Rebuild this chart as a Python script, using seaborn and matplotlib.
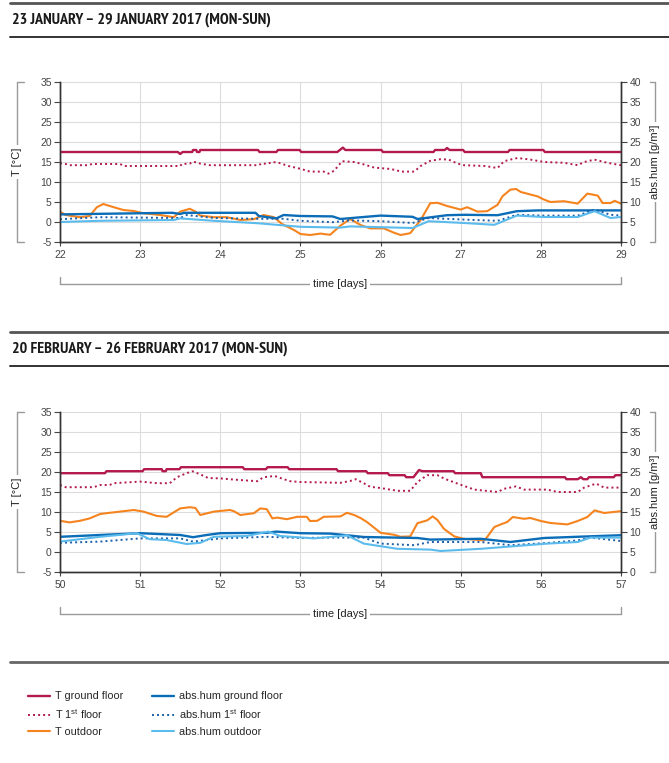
import numpy as np
import pandas as pd
import matplotlib
matplotlib.use("Agg")
import matplotlib.pyplot as plt
from matplotlib.lines import Line2D
from matplotlib import font_manager
import seaborn as sns


# Dati: (giorno, valore)
# temperature in °C (asse sinistro), umidità assoluta in g/m3 (asse destro)

jan_t_ground = [(22.0, 17.5), (23.47, 17.5), (23.5, 17.0), (23.53, 17.5), (23.65, 17.5), (23.66, 18.0),
                (23.7, 18.0), (23.71, 17.5), (23.74, 17.5), (23.75, 18.0), (24.47, 18.0), (24.49, 17.5),
                (24.7, 17.5), (24.72, 18.0), (24.99, 18.0), (25.01, 17.5), (25.46, 17.5), (25.53, 18.6),
                (25.56, 18.0), (26.01, 18.0), (26.03, 17.5), (26.66, 17.5), (26.68, 18.0), (26.8, 18.0),
                (26.83, 18.5), (26.86, 18.0), (27.03, 18.0), (27.05, 17.5), (27.59, 17.5), (27.61, 18.0),
                (28.03, 18.0), (28.05, 17.5), (29.0, 17.5)]

jan_t_first = [(22.0, 14.7), (22.07, 14.5), (22.12, 14.2), (22.35, 14.2), (22.4, 14.5), (22.75, 14.5),
               (22.8, 14.0), (23.5, 14.0), (23.52, 14.5), (23.62, 14.6), (23.66, 15.1), (23.75, 14.6),
               (23.87, 14.2), (24.48, 14.2), (24.52, 14.7), (24.58, 14.5), (24.65, 15.0), (24.73, 14.8),
               (24.85, 14.0), (25.0, 13.3), (25.12, 12.6), (25.29, 12.6), (25.35, 12.1), (25.42, 12.8),
               (25.52, 15.2), (25.67, 15.0), (25.79, 14.4), (25.92, 13.6), (26.1, 13.3), (26.19, 13.0),
               (26.25, 12.6), (26.42, 12.6), (26.5, 14.0), (26.62, 15.3), (26.75, 15.7), (26.85, 15.6),
               (26.96, 14.6), (27.04, 14.2), (27.3, 14.0), (27.46, 13.5), (27.54, 15.2), (27.62, 15.6),
               (27.71, 16.0), (27.87, 15.6), (28.04, 15.0), (28.29, 14.8), (28.46, 14.2), (28.54, 15.0),
               (28.67, 15.6), (28.75, 15.2), (28.83, 14.8), (29.0, 14.2)]

jan_t_out = [(22.0, 2.6), (22.07, 1.75), (22.25, 1.2), (22.37, 1.5), (22.46, 3.7), (22.54, 4.5),
             (22.67, 3.7), (22.79, 3.0), (22.92, 2.75), (23.04, 2.2), (23.25, 1.75), (23.42, 1.2),
             (23.5, 2.6), (23.62, 3.3), (23.69, 2.6), (23.75, 1.6), (23.92, 1.2), (24.08, 1.2),
             (24.25, 0.5), (24.42, 0.7), (24.54, 1.75), (24.67, 1.2), (24.77, -0.5), (24.92, -2.0),
             (25.0, -3.0), (25.12, -3.25), (25.25, -2.9), (25.37, -3.2), (25.5, -0.9), (25.62, 0.75),
             (25.75, -0.75), (25.87, -1.6), (26.04, -1.6), (26.17, -2.7), (26.25, -3.25), (26.37, -2.8),
             (26.5, 0.5), (26.62, 4.7), (26.71, 4.8), (26.83, 4.0), (27.0, 3.1), (27.08, 3.7),
             (27.21, 2.6), (27.33, 2.7), (27.46, 4.3), (27.52, 6.4), (27.62, 8.1), (27.69, 8.25),
             (27.75, 7.5), (27.96, 6.4), (28.04, 5.6), (28.12, 5.0), (28.29, 5.2), (28.46, 4.6),
             (28.58, 7.1), (28.71, 6.6), (28.77, 4.75), (28.87, 4.75), (28.92, 5.3), (29.0, 4.6)]

jan_h_ground = [(22.0, 6.9), (23.4, 7.3), (23.5, 7.0), (23.55, 7.3), (24.44, 7.3), (24.48, 6.5),
                (24.7, 5.9), (24.79, 6.75), (25.0, 6.5), (25.4, 6.4), (25.5, 5.75), (25.79, 6.25),
                (26.0, 6.6), (26.4, 6.3), (26.46, 5.75), (26.83, 6.7), (27.04, 6.8), (27.46, 6.7),
                (27.7, 7.7), (27.96, 7.9), (29.0, 7.9)]

jan_h_first = [(22.0, 5.7), (22.5, 6.2), (23.5, 6.0), (23.58, 6.75), (23.92, 6.0), (24.46, 5.8),
               (24.79, 5.8), (25.0, 5.3), (25.4, 4.95), (25.62, 5.4), (26.0, 5.2), (26.4, 4.75),
               (26.6, 6.0), (27.04, 5.6), (27.46, 5.3), (27.7, 6.8), (28.04, 6.6), (28.46, 6.6),
               (28.67, 8.1), (28.87, 6.8), (29.0, 6.6)]

jan_h_out = [(22.0, 5.0), (22.5, 5.3), (23.42, 5.5), (23.5, 5.9), (23.92, 5.3), (24.46, 4.7),
             (25.0, 3.8), (25.5, 3.6), (25.62, 3.9), (26.0, 3.7), (26.4, 3.5), (26.6, 5.2),
             (27.04, 4.75), (27.42, 4.3), (27.7, 6.6), (28.04, 6.25), (28.46, 6.25), (28.67, 7.7),
             (28.87, 6.0), (29.0, 6.25)]

feb_t_ground = [(50.0, 19.7), (50.56, 19.7), (50.58, 20.2), (51.03, 20.2), (51.05, 20.7), (51.27, 20.7),
                (51.28, 20.2), (51.32, 20.2), (51.33, 20.7), (51.49, 20.7), (51.51, 21.2), (52.28, 21.2),
                (52.3, 20.7), (52.57, 20.7), (52.59, 21.2), (52.84, 21.2), (52.86, 20.7), (53.45, 20.7),
                (53.47, 20.2), (53.82, 20.2), (53.84, 19.7), (54.09, 19.7), (54.11, 19.2), (54.3, 19.2),
                (54.32, 18.7), (54.41, 18.7), (54.48, 20.5), (54.52, 20.2), (54.91, 20.2), (54.93, 19.7),
                (55.25, 19.7), (55.27, 18.7), (56.3, 18.7), (56.32, 18.2), (56.46, 18.2), (56.5, 18.7),
                (56.53, 18.2), (56.58, 18.2), (56.6, 18.7), (56.91, 18.7), (56.93, 19.2), (57.0, 19.2)]

feb_t_first = [(50.0, 16.75), (50.07, 16.2), (50.42, 16.2), (50.5, 16.75), (50.62, 16.75), (50.67, 17.2),
               (51.0, 17.6), (51.21, 17.2), (51.37, 17.2), (51.46, 18.7), (51.58, 19.7), (51.65, 20.2),
               (51.75, 19.4), (51.85, 18.5), (52.0, 18.4), (52.17, 18.1), (52.46, 17.7), (52.54, 18.7),
               (52.68, 19.0), (52.75, 18.5), (52.87, 17.7), (53.0, 17.5), (53.5, 17.3), (53.62, 17.75),
               (53.69, 18.2), (53.79, 17.2), (53.87, 16.3), (54.0, 16.0), (54.21, 15.3), (54.37, 15.3),
               (54.46, 17.5), (54.58, 19.2), (54.71, 19.2), (54.8, 18.3), (54.96, 17.1), (55.17, 15.6),
               (55.46, 15.0), (55.54, 15.8), (55.69, 16.4), (55.79, 15.6), (56.08, 15.6), (56.21, 15.0),
               (56.46, 15.0), (56.54, 16.1), (56.69, 17.1), (56.79, 16.1), (57.0, 16.1)]

feb_t_out = [(50.0, 7.8), (50.12, 7.4), (50.25, 7.8), (50.37, 8.4), (50.5, 9.5), (50.62, 9.8),
             (50.75, 10.1), (50.92, 10.5), (51.04, 10.1), (51.21, 9.0), (51.33, 8.8), (51.5, 10.9),
             (51.62, 11.2), (51.69, 11.0), (51.75, 9.25), (51.92, 10.1), (52.12, 10.5), (52.17, 10.2),
             (52.25, 9.25), (52.42, 9.7), (52.5, 10.9), (52.58, 10.7), (52.65, 8.4), (52.71, 8.6),
             (52.83, 8.2), (52.96, 8.8), (53.08, 8.8), (53.12, 7.75), (53.21, 7.8), (53.29, 8.8),
             (53.5, 8.9), (53.58, 9.8), (53.67, 9.25), (53.75, 8.5), (53.83, 7.5), (54.0, 4.8),
             (54.17, 4.3), (54.25, 3.8), (54.37, 3.9), (54.46, 7.2), (54.58, 7.9), (54.65, 8.9),
             (54.71, 8.0), (54.79, 5.8), (54.92, 3.9), (55.04, 3.3), (55.29, 2.9), (55.33, 3.75),
             (55.42, 6.25), (55.5, 6.9), (55.58, 7.5), (55.65, 8.75), (55.79, 8.3), (55.87, 8.5),
             (56.0, 7.75), (56.12, 7.25), (56.33, 6.9), (56.46, 7.75), (56.58, 8.75), (56.67, 10.4),
             (56.79, 9.75), (57.0, 10.2)]

feb_h_ground = [(50.0, 8.8), (51.0, 9.7), (51.5, 9.25), (51.66, 8.7), (51.83, 9.25), (52.0, 9.7),
                (52.58, 9.8), (52.7, 10.1), (53.0, 9.7), (53.375, 9.6), (53.79, 8.75), (54.46, 8.5),
                (54.62, 8.1), (55.25, 8.3), (55.62, 7.5), (56.04, 8.5), (57.0, 9.2)]

feb_h_first = [(50.0, 7.3), (50.5, 7.6), (51.0, 8.4), (51.5, 8.4), (51.66, 7.6), (52.0, 8.4),
               (52.58, 8.8), (53.0, 8.5), (53.375, 8.6), (53.79, 8.6), (54.0, 7.1), (54.42, 6.7),
               (54.62, 7.5), (55.25, 7.5), (55.62, 6.7), (56.08, 7.25), (56.46, 7.9), (56.62, 8.6),
               (57.0, 7.75)]

feb_h_out = [(50.0, 7.6), (50.5, 8.8), (50.96, 9.7), (51.12, 8.2), (51.33, 8.0), (51.58, 7.0),
             (51.75, 7.3), (51.92, 8.8), (52.33, 9.0), (52.6, 10.1), (52.75, 9.0), (53.17, 8.4),
             (53.5, 9.0), (53.58, 9.2), (53.79, 7.1), (54.21, 5.8), (54.62, 5.6), (54.75, 5.25),
             (55.25, 5.8), (56.08, 7.1), (56.46, 7.5), (56.62, 8.6), (57.0, 8.6)]

jan_days = [22, 23, 24, 25, 26, 27, 28, 29]
feb_days = [50, 51, 52, 53, 54, 55, 56, 57]
t_ticks = [-5, 0, 5, 10, 15, 20, 25, 30, 35]
h_ticks = [0, 5, 10, 15, 20, 25, 30, 35, 40]

titles = ["23 JANUARY – 29 JANUARY 2017 (MON-SUN)",
          "20 FEBRUARY – 26 FEBRUARY 2017 (MON-SUN)"]

labels = ["T ground floor", "T 1$^{\\mathrm{st}}$ floor", "T outdoor",
          "abs.hum ground floor", "abs.hum 1$^{\\mathrm{st}}$ floor", "abs.hum outdoor"]


# Stile

RED = "#b3194b"
ORANGE = "#f5841f"
BLUE = "#0b6db7"
BLUE_DOT = "#1b5ea8"
LIGHT = "#5bbbec"
GRAY = "#9a9a9a"

styles = [
    dict(color=RED, linewidth=1.7, linestyle="-"),
    dict(color=RED, linewidth=1.4, linestyle=(0, (1, 1.6))),
    dict(color=ORANGE, linewidth=1.5, linestyle="-"),
    dict(color=BLUE, linewidth=1.7, linestyle="-"),
    dict(color=BLUE_DOT, linewidth=1.4, linestyle=(0, (1, 1.6))),
    dict(color=LIGHT, linewidth=1.5, linestyle="-"),
]

sns.set_theme(style="white")
plt.rcParams["font.family"] = ["Liberation Sans", "DejaVu Sans"]
plt.rcParams["mathtext.fontset"] = "custom"
plt.rcParams["mathtext.rm"] = "Liberation Sans"
plt.rcParams["axes.unicode_minus"] = False


# font stretto per i titoli: prima "Narrow", poi "Condensed"
def is_bold(f):
    return f.weight in ("bold", 700, "heavy", 800, "black", 900)


narrow = None
for key in ("Narrow", "Condensed"):
    for f in font_manager.fontManager.ttflist:
        if is_bold(f) and (key in f.name or (key == "Condensed" and f.stretch == "condensed")):
            narrow = f
            break
    if narrow is not None:
        break

if narrow is not None:
    size = 11.5 if "Narrow" in narrow.name else 10.5
    title_font = dict(family=[narrow.name, "DejaVu Sans"], stretch=narrow.stretch,
                      fontweight="bold", fontsize=size)
else:
    title_font = dict(family=["Liberation Sans", "DejaVu Sans"], fontweight="bold", fontsize=10)

W, H = 669, 763


def fx(px):
    return px / W


def fy(py):
    return 1 - py / H


fig = plt.figure(figsize=(W / 100, H / 100), dpi=100)
fig.patch.set_facecolor("white")


def hline(y, x0, x1, lw=1.0, color=GRAY):
    fig.add_artist(Line2D([fx(x0), fx(x1)], [fy(y), fy(y)],
                          transform=fig.transFigure, color=color, linewidth=lw))


def vline(x, y0, y1, lw=1.0, color=GRAY):
    fig.add_artist(Line2D([fx(x), fx(x)], [fy(y0), fy(y1)],
                          transform=fig.transFigure, color=color, linewidth=lw))


def header(y_top, text):
    hline(y_top, 10, 669, lw=2.0, color="#555555")
    fig.text(fx(12), fy(y_top + 17), text, ha="left", va="center",
             color="#1a1a1a", **title_font)
    hline(y_top + 34, 10, 669, lw=1.4, color="#333333")


def week_panel(y_top, days, series):

    ax = fig.add_axes([fx(60), fy(y_top + 160), fx(621) - fx(60), fy(y_top) - fy(y_top + 160)])
    ax2 = ax.twinx()

    for i, pts in enumerate(series):
        df = pd.DataFrame(pts, columns=["day", "val"])
        target = ax if i < 3 else ax2
        sns.lineplot(data=df, x="day", y="val", ax=target, estimator=None,
                     sort=False, legend=False, **styles[i])

    ax.set_xlim(days[0], days[-1])
    ax.set_ylim(-5, 35)
    ax2.set_ylim(0, 40)
    ax.set_xticks(days)
    ax.set_yticks(t_ticks)
    ax2.set_yticks(h_ticks)
    ax.set_xlabel("")
    ax.set_ylabel("")
    ax2.set_ylabel("")

    ax.grid(True, color="#dcdcdc", linewidth=0.8)
    ax2.grid(False)

    for a in (ax, ax2):
        a.spines["top"].set_visible(False)
        for s in ("left", "right", "bottom"):
            a.spines[s].set_color("#333333")
            a.spines[s].set_linewidth(1.0)
        a.tick_params(labelsize=7.5, colors="#444444", length=4, width=0.8, pad=2)

    ax.tick_params(axis="y", left=True, right=False, direction="out")
    ax.tick_params(axis="x", bottom=True, direction="out", length=3, pad=3)
    ax2.tick_params(axis="y", right=True, direction="out")

    # parentesi laterali e in basso
    y_mid = y_top + 80
    vline(17, y_top, y_top + 160)
    hline(y_top, 17, 24)
    hline(y_top + 160, 17, 24)
    fig.text(fx(17), fy(y_mid), "T [°C]", rotation=90, ha="center", va="center",
             fontsize=8, color="#222222",
             bbox=dict(facecolor="white", edgecolor="none", pad=2))

    vline(655, y_top, y_top + 160)
    hline(y_top, 650, 655)
    hline(y_top + 160, 650, 655)
    fig.text(fx(655), fy(y_mid), "abs.hum [g/m³]", rotation=90, ha="center", va="center",
             fontsize=8, color="#222222",
             bbox=dict(facecolor="white", edgecolor="none", pad=2))

    yb = y_top + 202
    hline(yb, 60, 621)
    vline(60, yb, yb - 7)
    vline(621, yb, yb - 7)
    fig.text(fx(340), fy(yb), "time [days]", ha="center", va="center",
             fontsize=8, color="#222222",
             bbox=dict(facecolor="white", edgecolor="none", pad=2))

    return ax


header(3, titles[0])
week_panel(82, jan_days, [jan_t_ground, jan_t_first, jan_t_out, jan_h_ground, jan_h_first, jan_h_out])

header(332, titles[1])
week_panel(412, feb_days, [feb_t_ground, feb_t_first, feb_t_out, feb_h_ground, feb_h_first, feb_h_out])

hline(662, 10, 669, lw=2.0, color="#666666")

handles = [Line2D([0], [0], **st) for st in styles]
fig.legend(handles, labels, ncol=2, loc="upper left",
           bbox_to_anchor=(fx(24), fy(687)), frameon=False,
           fontsize=7.8, handlelength=2.0, handletextpad=0.5,
           columnspacing=2.6, labelspacing=0.55, borderaxespad=0)

fig.savefig("out.png", dpi=100, facecolor="white")
